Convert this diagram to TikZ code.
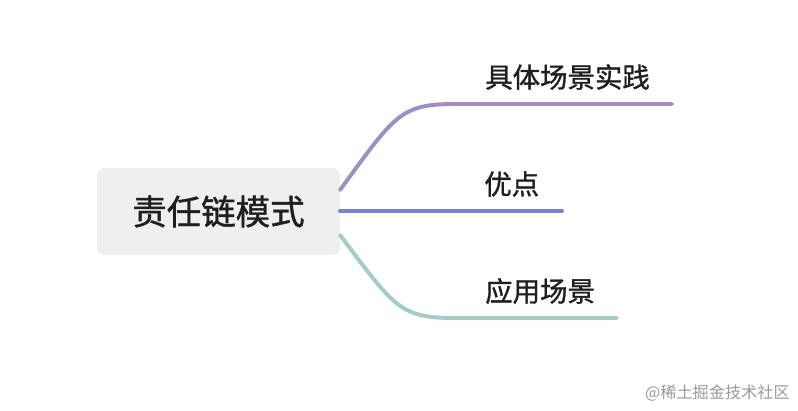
\documentclass[tikz,border=0pt]{standalone}
\usepackage{fontspec}
\setmainfont{Noto Sans CJK SC}
\newfontfamily\medfont{Noto Sans CJK SC}[FakeBold=1.2]
\definecolor{boxgray}{HTML}{EEEFEF}
\definecolor{topc}{HTML}{9D8EC6}
\definecolor{midc}{HTML}{7C80D2}
\definecolor{botc}{HTML}{A3CBCA}
\begin{document}
\begin{tikzpicture}[x=0.025cm,y=-0.025cm]

      \tikzset{branch/.style={line width=2.8pt, line cap=round},
               leaf/.style={anchor=west, inner sep=0pt, font=\medfont\fontsize{19.5}{22}\selectfont, text=black!88}}
      \useasboundingbox (0,0) rectangle (798,410);
% Root
      	\node[fill=boxgray, rounded corners=5pt, minimum width=243*0.025cm, minimum height=87*0.025cm,
      	      font=\medfont\fontsize{24.5}{28}\selectfont, text=black!88] (root) at (218.5,211.5) {责任链模式};
% Branch ends
      	\coordinate (s1) at (340,190);
      	\coordinate (k1) at (455,104);
      	\coordinate (e1) at (672,104);
      	\coordinate (s2) at (340,211);
      	\coordinate (e2) at (562,211);
      	\coordinate (s3) at (340,235);
      	\coordinate (k3) at (455,318);
      	\coordinate (e3) at (617,318);
%Edges
		\draw[branch, topc] (s1) .. controls (395,115) and (400,104) .. (k1) -- (e1);
		\draw[branch, midc] (s2) -- (e2);
		\draw[branch, botc] (s3) .. controls (395,308) and (400,318) .. (k3) -- (e3);
% Labels
		\node[leaf] (t1) at (485,77) {具体场景实践};
		\node[leaf] (t2) at (484,184) {优点};
		\node[leaf] (t3) at (485,291) {应用场景};
		\node[anchor=east, inner sep=0pt, font=\fontsize{11.5}{13}\selectfont, text=black!40] (wm) at (790,393) {@稀土掘金技术社区};

	\end{tikzpicture}
\end{document}
